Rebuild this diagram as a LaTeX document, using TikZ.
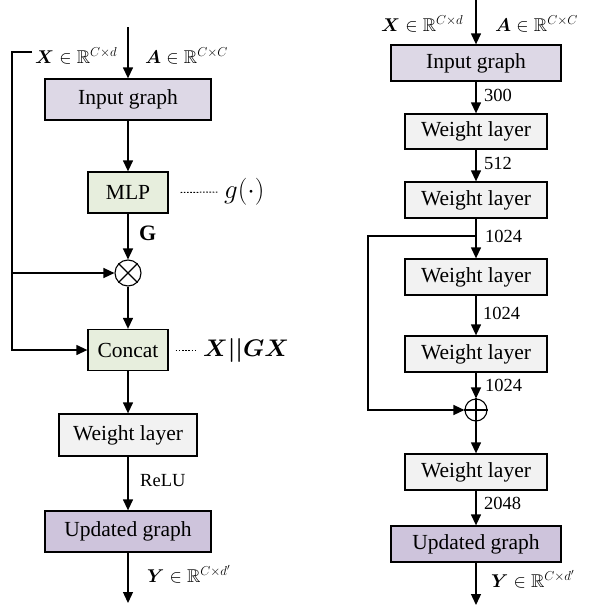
\RequirePackage{fix-cm}
\documentclass[tikz,border=0pt]{standalone}
\usepackage{amsmath,amssymb,bm}
\usepackage{fontspec}
\setmainfont{Liberation Serif}
\usetikzlibrary{arrows.meta}
\definecolor{inputc}{HTML}{DDD8E6}
\definecolor{updc}{HTML}{CEC4DC}
\definecolor{greenc}{HTML}{E7EEDD}
\definecolor{grayc}{HTML}{F2F2F2}
\tikzset{
  box/.style={draw=black, line width=1.3pt, inner sep=0pt, font=\fontsize{21.5}{23}\selectfont},
  inbox/.style={box, fill=inputc},
  updbox/.style={box, fill=updc},
  mlpbox/.style={box, fill=greenc},
  wbox/.style={box, fill=grayc},
  arr/.style={line width=1.3pt, -{Triangle[length=11pt,width=10pt]}},
  ln/.style={line width=1.3pt},
  dots/.style={line width=1pt, dash pattern=on 1.6pt off 1.6pt},
  lab/.style={inner sep=0pt, font=\fontsize{18.5}{20}\selectfont},
  mlab/.style={inner sep=0pt, font=\fontsize{18.5}{20}\selectfont},
  opc/.style={circle, draw=black, line width=1.1pt, inner sep=0pt}
}
\begin{document}
\begin{tikzpicture}[x=1pt,y=-1pt]
\useasboundingbox (0,0) rectangle (595,608);
% ---------------- left column ----------------
\coordinate (ltop) at (128,27);
\node[inbox, minimum width=166pt, minimum height=41pt] (lin) at (128,99.5) {Input graph};
\node[mlpbox, minimum width=80pt, minimum height=41pt] (mlp) at (128,192.5) {MLP};
\node[opc, minimum size=26pt] (otimes) at (128,273) {};
\draw[line width=1.1pt] (otimes.north west) -- (otimes.south east) (otimes.north east) -- (otimes.south west);
\node[mlpbox, minimum width=80pt, minimum height=41pt] (concat) at (128,350) {Concat};
\node[wbox, minimum width=138pt, minimum height=42pt] (lwl) at (128,435) {Weight layer};
\node[updbox, minimum width=166pt, minimum height=41pt] (lug) at (128,531.5) {Updated graph};
\coordinate (lbot) at (128,603);

\node[mlab, anchor=base west] (lx) at (35,63) {$\bm{X}\in\mathbb{R}^{C\times d}$};
\node[mlab, anchor=base west] (la) at (145,63) {$\bm{A}\in\mathbb{R}^{C\times C}$};
\node[inner sep=0pt, anchor=west, font=\fontsize{27}{29}\selectfont] (gl) at (224,192) {$g(\cdot)$};
\node[inner sep=0pt, anchor=west, font=\fontsize{22}{24}\selectfont] (glab) at (139,233) {$\mathbf{G}$};
\node[inner sep=0pt, anchor=west, font=\fontsize{24}{26}\selectfont] (xgx) at (203,350) {$\bm{X||GX}$};
\node[lab, anchor=west] (relu) at (140,481) {ReLU};
\node[mlab, anchor=base west] (ly) at (147,582) {$\bm{Y}\in\mathbb{R}^{C\times d'}$};

\coordinate (fbs) at (32,52);
\coordinate (fbc) at (12,52);
\coordinate (fbm) at (12,273);

\draw[arr] (ltop) -- (lin);
\draw[arr] (lin) -- (mlp);
\draw[arr] (mlp) -- (otimes);
\draw[arr] (otimes) -- (concat);
\draw[arr] (concat) -- (lwl);
\draw[arr] (lwl) -- (lug);
\draw[arr] (lug) -- (lbot);
\draw[arr] (fbs) -- (fbc) |- (concat.west);
\draw[arr] (fbm) -- (otimes.west);
\draw[dots] ([xshift=12pt]mlp.east) -- ([xshift=-6pt]gl.west);
\draw[dots] ([xshift=7pt]concat.east) -- ([xshift=-5pt]xgx.west);

% ---------------- right column ----------------
\coordinate (rtop) at (476,0);
\node[inbox, minimum width=170pt, minimum height=36pt] (rin) at (476,63) {Input graph};
\node[wbox, minimum width=142pt, minimum height=35pt] (w1) at (476,131.5) {Weight layer};
\node[wbox, minimum width=142pt, minimum height=36pt] (w2) at (476,200) {Weight layer};
\coordinate (br) at (476,236);
\node[wbox, minimum width=142pt, minimum height=36pt] (w3) at (476,277) {Weight layer};
\node[wbox, minimum width=142pt, minimum height=36pt] (w4) at (476,354) {Weight layer};
\node[opc, minimum size=22pt] (oplus) at (476,410) {};
\draw[line width=1.1pt] (oplus.north) -- (oplus.south) (oplus.west) -- (oplus.east);
\node[wbox, minimum width=142pt, minimum height=36pt] (w5) at (476,472) {Weight layer};
\node[updbox, minimum width=170pt, minimum height=36pt] (rug) at (476,544) {Updated graph};
\coordinate (rbot) at (476,605);
\coordinate (skl) at (368,236);

\node[mlab, anchor=base west] (rx) at (381,31) {$\bm{X}\in\mathbb{R}^{C\times d}$};
\node[mlab, anchor=base west] (ra) at (495,31) {$\bm{A}\in\mathbb{R}^{C\times C}$};
\node[mlab, anchor=base west] (ry) at (491,587) {$\bm{Y}\in\mathbb{R}^{C\times d'}$};
\node[lab, anchor=west] (n1) at (484,95) {300};
\node[lab, anchor=west] (n2) at (484,163) {512};
\node[lab, anchor=west] (n3) at (485,236) {1024};
\node[lab, anchor=west] (n4) at (483,313) {1024};
\node[lab, anchor=west] (n5) at (485,385) {1024};
\node[lab, anchor=west] (n6) at (484,503) {2048};

\draw[arr] (rtop) -- (rin);
\draw[arr] (rin) -- (w1);
\draw[arr] (w1) -- (w2);
\draw[arr] (w2) -- (w3);
\draw[arr] (w3) -- (w4);
\draw[arr] (w4) -- (oplus);
\draw[arr] (oplus) -- (w5);
\draw[arr] (w5) -- (rug);
\draw[arr] (rug) -- (rbot);
\draw[arr] (br) -- (skl) |- (oplus.west);
\end{tikzpicture}
\end{document}
